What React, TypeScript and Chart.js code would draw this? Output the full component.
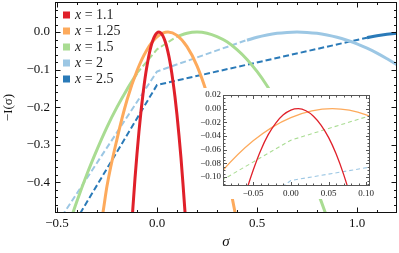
import React, { useEffect, useRef } from 'react';
import { Chart, registerables } from 'chart.js';
Chart.register(...registerables);

// ---------- data ----------
const redSigma = [-0.13, -0.12, -0.11, -0.1, -0.09, -0.08, -0.07, -0.06, -0.05, -0.04, -0.03, -0.02, -0.01, 0.0, 0.01, 0.02, 0.03, 0.04, 0.05, 0.06, 0.07, 0.08, 0.09, 0.1, 0.11, 0.12, 0.13, 0.14, 0.15];
const redI = [-0.544, -0.464, -0.39, -0.324, -0.264, -0.211, -0.165, -0.124, -0.09, -0.061, -0.038, -0.021, -0.009, -0.002, 0.0, -0.003, -0.011, -0.024, -0.042, -0.066, -0.096, -0.132, -0.173, -0.221, -0.276, -0.336, -0.405, -0.479, -0.561];

const orangeSigma = [-0.3, -0.27, -0.25, -0.2, -0.15, -0.1, -0.05, 0.0, 0.055, 0.1, 0.15, 0.2, 0.25, 0.3, 0.35, 0.39, 0.42];
const orangeI = [-0.57, -0.48, -0.41, -0.285, -0.181, -0.103, -0.047, -0.013, 0.0, -0.009, -0.039, -0.09, -0.164, -0.258, -0.374, -0.48, -0.57];

const greenLeftSigma = [-0.45, -0.4, -0.35, -0.3, -0.25, -0.2, -0.15, -0.1];
const greenLeftI = [-0.528, -0.45, -0.378, -0.313, -0.253, -0.2, -0.153, -0.11];
const greenRightSigma = [0.1, 0.15, 0.2, 0.25, 0.3, 0.35, 0.4, 0.45, 0.5, 0.55, 0.6, 0.65, 0.7, 0.75, 0.8, 0.85, 0.9];
const greenRightI = [-0.012, -0.003, 0.0, -0.003, -0.012, -0.026, -0.047, -0.073, -0.105, -0.143, -0.187, -0.237, -0.293, -0.354, -0.421, -0.494, -0.573];
const greenDashSigma = [-0.1, 0.0, 0.1];
const greenDashI = [-0.11, -0.046, -0.012];

const lightSolidSigma = [0.45, 0.5, 0.55, 0.6, 0.65, 0.7, 0.75, 0.8, 0.85, 0.9, 0.95, 1.0, 1.05, 1.1, 1.15, 1.2, 1.25];
const lightSolidI = [-0.022, -0.014, -0.008, -0.0035, -0.001, 0.0, -0.001, -0.0035, -0.008, -0.014, -0.022, -0.0315, -0.043, -0.056, -0.071, -0.0875, -0.108];
const lightDashSigma = [-0.55, 0.0, 0.45];
const lightDashI = [-0.551, -0.105, -0.021];

const darkSolidSigma = [1.05, 1.1, 1.15, 1.2, 1.25];
const darkSolidI = [-0.015, -0.01, -0.006, -0.003, -0.001];
const darkDashSigma = [-0.5, 0.0, 1.05];
const darkDashI = [-0.586, -0.141, -0.015];

const legendValues = ['1.1', '1.25', '1.5', '2', '2.5'];

const mainXTicks = [-0.5, 0.0, 0.5, 1.0];
const mainYTicks = [0.0, -0.1, -0.2, -0.3, -0.4];
const insetXTicks = [-0.05, 0.0, 0.05, 0.1];
const insetYTicks = [0.02, 0.0, -0.02, -0.04, -0.06, -0.08, -0.1];

// ---------- styles ----------
const RED = '#e0202a';
const ORANGE = '#fdaa5c';
const GREEN = '#a9dc92';
const LIGHT = '#9cc7e4';
const DARK = '#2a7ab8';
const SERIF = '"Liberation Serif", "DejaVu Serif", serif';

const pts = (xs: number[], ys: number[]) => xs.map((x, i) => ({ x, y: ys[i] }));

const range = (a: number, b: number, step: number) => {
  const out: number[] = [];
  const n = Math.round((b - a) / step);
  for (let i = 0; i <= n; i++) out.push(Math.round((a + i * step) * 1e6) / 1e6);
  return out;
};

const fmt = (v: number, d: number) => {
  const r = Math.round(v * 1e6) / 1e6;
  return (r < 0 ? '\u2212' : '') + Math.abs(r).toFixed(d);
};

const noPad = (s: any) => {
  s.paddingTop = 0;
  s.paddingBottom = 0;
  s.paddingLeft = 0;
  s.paddingRight = 0;
};

function framePlugin(id: string, opts: any) {
  return {
    id,
    beforeDraw(chart: any) {
      if (opts.background) {
        const c = chart.ctx;
        c.save();
        c.fillStyle = '#ffffff';
        c.fillRect(0, 0, chart.width, chart.height);
        c.restore();
      }
    },
    afterDraw(chart: any) {
      const c = chart.ctx;
      const { left, right, top, bottom } = chart.chartArea;
      const xs = chart.scales.x;
      const ys = chart.scales.y;
      c.save();
      c.strokeStyle = opts.color;
      c.lineWidth = 1;
      const L = Math.round(left) + 0.5, R = Math.round(right) - 0.5;
      const T = Math.round(top) + 0.5, B = Math.round(bottom) - 0.5;
      c.strokeRect(L, T, R - L, B - T);
      c.beginPath();
      const xt = (vals: number[], len: number) => {
        vals.forEach((v) => {
          const p = Math.round(xs.getPixelForValue(v)) + 0.5;
          if (p < L - 0.1 || p > R + 0.1) return;
          c.moveTo(p, B); c.lineTo(p, B - len);
          c.moveTo(p, T); c.lineTo(p, T + len);
        });
      };
      const yt = (vals: number[], len: number) => {
        vals.forEach((v) => {
          const p = Math.round(ys.getPixelForValue(v)) + 0.5;
          if (p < T - 0.1 || p > B + 0.1) return;
          c.moveTo(L, p); c.lineTo(L + len, p);
          c.moveTo(R, p); c.lineTo(R - len, p);
        });
      };
      xt(opts.xMinor, opts.minorLen);
      xt(opts.xMajor, opts.majorLen);
      yt(opts.yMinor, opts.minorLen);
      yt(opts.yMajor, opts.majorLen);
      c.stroke();

      if (opts.legend) {
        const colors = [RED, ORANGE, GREEN, LIGHT, DARK];
        c.textBaseline = 'middle';
        legendValues.forEach((val, i) => {
          const cy = 15 + i * 16;
          c.fillStyle = colors[i];
          c.fillRect(left + 8, cy - 3.5, 7, 7);
          c.fillStyle = '#222';
          c.font = `italic 14px ${SERIF}`;
          c.fillText('x', left + 20, cy);
          const w = c.measureText('x').width;
          c.font = `14px ${SERIF}`;
          c.fillText(' = ' + val, left + 20 + w, cy);
        });
      }
      c.restore();
    },
  };
}

function lineDs(data: any[], color: string, width: number, dashed: boolean, smooth: boolean) {
  return {
    data,
    borderColor: color,
    backgroundColor: color,
    borderWidth: width,
    borderDash: dashed ? [6, 3] : [],
    pointRadius: 0,
    fill: false,
    tension: 0,
    cubicInterpolationMode: smooth ? 'monotone' : 'default',
    borderCapStyle: 'butt',
  };
}

export default function App() {
  const mainRef = useRef<HTMLCanvasElement>(null);
  const insetRef = useRef<HTMLCanvasElement>(null);

  useEffect(() => {
    const tickFont = { family: SERIF, size: 13 };
    const main = new Chart(mainRef.current as HTMLCanvasElement, {
      type: 'line',
      data: {
        datasets: [
          lineDs(pts(redSigma, redI), RED, 3, false, true),
          lineDs(pts(orangeSigma, orangeI), ORANGE, 3, false, true),
          lineDs(pts(greenLeftSigma, greenLeftI), GREEN, 3, false, true),
          lineDs(pts(greenRightSigma, greenRightI), GREEN, 3, false, true),
          lineDs(pts(greenDashSigma, greenDashI), GREEN, 2, true, false),
          lineDs(pts(lightSolidSigma, lightSolidI), LIGHT, 3, false, true),
          lineDs(pts(lightDashSigma, lightDashI), LIGHT, 2, true, false),
          lineDs(pts(darkSolidSigma, darkSolidI), DARK, 3, false, true),
          lineDs(pts(darkDashSigma, darkDashI), DARK, 2, true, false),
        ] as any,
      },
      options: {
        animation: false,
        responsive: false,
        maintainAspectRatio: false,
        parsing: false as any,
        layout: { padding: { left: 0, right: 2, top: 2, bottom: 0 } },
        plugins: { legend: { display: false }, tooltip: { enabled: false } },
        scales: {
          x: {
            type: 'linear',
            min: -0.51,
            max: 1.2,
            grid: { display: false, drawTicks: false },
            border: { display: false },
            afterBuildTicks: (s: any) => { s.ticks = mainXTicks.map((v) => ({ value: v })); },
            afterFit: (s: any) => { s.height = 40; noPad(s); },
            ticks: { autoSkip: false, maxRotation: 0, padding: 3, color: '#111', font: tickFont, callback: (v: any) => fmt(Number(v), 1) },
            title: { display: true, text: 'σ', color: '#111', font: { family: SERIF, size: 15, style: 'italic' }, padding: { top: 0, bottom: 2 } },
          },
          y: {
            type: 'linear',
            min: -0.482,
            max: 0.08,
            grid: { display: false, drawTicks: false },
            border: { display: false },
            afterBuildTicks: (s: any) => { s.ticks = mainYTicks.map((v) => ({ value: v })); },
            afterFit: (s: any) => { s.width = 55; noPad(s); },
            ticks: { autoSkip: false, padding: 5, color: '#111', font: tickFont, callback: (v: any) => fmt(Number(v), 1) },
            title: { display: true, text: '\u2212I(σ)', color: '#111', font: { family: SERIF, size: 13 }, padding: { top: 1, bottom: 0 } },
          },
        },
      } as any,
      plugins: [
        framePlugin('mainFrame', {
          color: '#111',
          xMajor: mainXTicks,
          yMajor: mainYTicks,
          xMinor: range(-0.5, 1.2, 0.1),
          yMinor: range(-0.48, 0.08, 0.02),
          majorLen: 5,
          minorLen: 2.5,
          legend: true,
        }),
      ],
    });

    const insetFont = { family: SERIF, size: 9 };
    const inset = new Chart(insetRef.current as HTMLCanvasElement, {
      type: 'line',
      data: {
        datasets: [
          lineDs(pts(redSigma, redI), RED, 1.3, false, true),
          lineDs(pts(orangeSigma, orangeI), ORANGE, 1.3, false, true),
          { ...lineDs(pts(greenDashSigma, greenDashI), GREEN, 1.1, true, false), borderDash: [4, 3] },
          { ...lineDs(pts(lightDashSigma, lightDashI), LIGHT, 1.1, true, false), borderDash: [4, 3] },
          { ...lineDs(pts(darkDashSigma, darkDashI), DARK, 1.1, true, false), borderDash: [4, 3] },
        ] as any,
      },
      options: {
        animation: false,
        responsive: false,
        maintainAspectRatio: false,
        parsing: false as any,
        layout: { padding: { left: 0, right: 5, top: 7, bottom: 0 } },
        plugins: { legend: { display: false }, tooltip: { enabled: false } },
        scales: {
          x: {
            type: 'linear',
            min: -0.09,
            max: 0.105,
            grid: { display: false, drawTicks: false },
            border: { display: false },
            afterBuildTicks: (s: any) => { s.ticks = insetXTicks.map((v) => ({ value: v })); },
            afterFit: (s: any) => { s.height = 13; noPad(s); },
            ticks: { autoSkip: false, maxRotation: 0, padding: 2, color: '#222', font: insetFont, callback: (v: any) => fmt(Number(v), 2) },
          },
          y: {
            type: 'linear',
            min: -0.113,
            max: 0.02,
            grid: { display: false, drawTicks: false },
            border: { display: false },
            afterBuildTicks: (s: any) => { s.ticks = insetYTicks.map((v) => ({ value: v })); },
            afterFit: (s: any) => { s.width = 27; noPad(s); },
            ticks: { autoSkip: false, padding: 2, color: '#222', font: insetFont, callback: (v: any) => fmt(Number(v), 2) },
          },
        },
      } as any,
      plugins: [
        framePlugin('insetFrame', {
          color: '#555',
          background: true,
          xMajor: insetXTicks,
          yMajor: insetYTicks,
          xMinor: range(-0.09, 0.1, 0.01),
          yMinor: range(-0.11, 0.02, 0.005),
          majorLen: 3.5,
          minorLen: 2,
          legend: false,
        }),
      ],
    });

    return () => {
      main.destroy();
      inset.destroy();
    };
  }, []);

  return (
    <div style={{ position: 'fixed', left: 0, top: 0, width: 399, height: 253, background: '#fff' }}>
      <canvas ref={mainRef} width={399} height={253} style={{ position: 'absolute', left: 0, top: 0, width: 399, height: 253 }} />
      <canvas ref={insetRef} width={179} height={111} style={{ position: 'absolute', left: 196, top: 88, width: 179, height: 111 }} />
    </div>
  );
}
